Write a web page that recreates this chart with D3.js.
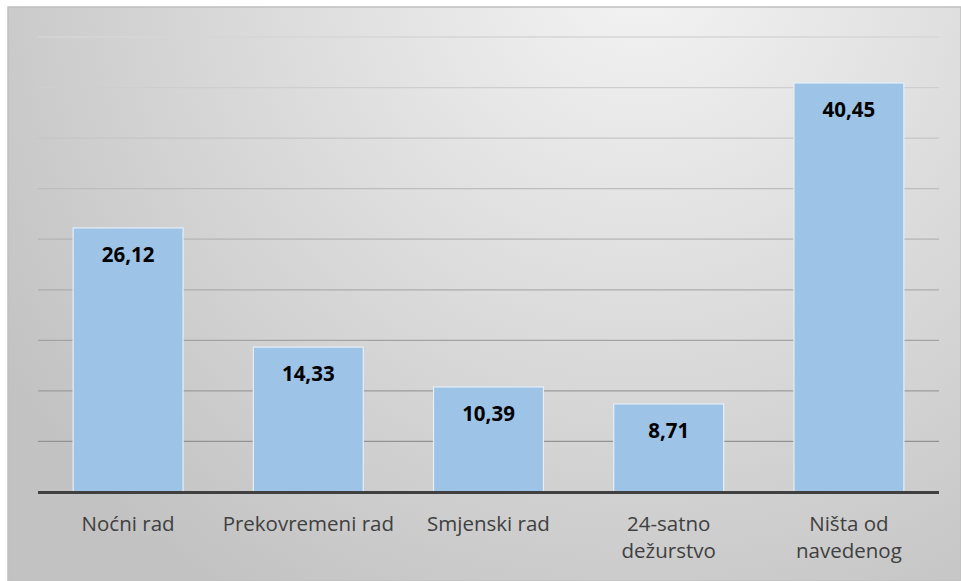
<!DOCTYPE html>
<html>
  <head>
    <meta charset='utf-8' />
    <title>Bar chart</title>
    <style>
      body { margin: 0; background: white; }
      svg { display: block; }
      .value { font-family: "Open Sans", sans-serif; font-weight: bold; font-size: 20.5px; fill: #000; }
      .cat { font-family: "Open Sans", sans-serif; font-size: 20.5px; fill: #404040; }
    </style>
  </head>
<body>
  <svg id="chart" width="961" height="581"></svg>
  <script src="https://d3js.org/d3.v7.min.js"></script>
  <script>
    const categories = ["Noćni rad", "Prekovremeni rad", "Smjenski rad", "24-satno\ndežurstvo", "Ništa od\nnavedenog"];
    const values = [26.12, 14.33, 10.39, 8.71, 40.45];
    const gridTicks = [5, 10, 15, 20, 25, 30, 35, 40, 45];

    const svgWidth = 961, svgHeight = 581;
    const plotLeft = 38, plotRight = 939, plotTop = 37, plotBottom = 492;

    const svg = d3.select("#chart");
    const defs = svg.append("defs");

    // background gradient
    const bg = defs.append("radialGradient")
      .attr("id", "bg")
      .attr("gradientUnits", "userSpaceOnUse")
      .attr("cx", 640).attr("cy", -40).attr("r", 760);
    bg.append("stop").attr("offset", "0%").attr("stop-color", "#f4f4f4");
    bg.append("stop").attr("offset", "100%").attr("stop-color", "#c2c2c2");

    svg.append("rect")
      .attr("x", 8).attr("y", 7)
      .attr("width", svgWidth - 8).attr("height", svgHeight - 7)
      .attr("fill", "url(#bg)")
      .attr("stroke", "#c0c0c0")
      .attr("stroke-width", 1.5);

    const x = d3.scaleBand()
      .domain(categories)
      .range([plotLeft, plotRight])
      .paddingInner(0.39)
      .paddingOuter(0.195);

    const y = d3.scaleLinear()
      .domain([0, 45])
      .range([plotBottom, plotTop]);

    const gridColor = d3.scaleLinear()
      .domain([45, 0])
      .range(["#d6d6d6", "#8a8a8a"]);

    // gridlines
    svg.append("g")
      .selectAll("line")
      .data(gridTicks)
      .join("line")
      .attr("x1", plotLeft).attr("x2", plotRight)
      .attr("y1", d => y(d)).attr("y2", d => y(d))
      .attr("stroke", d => gridColor(d))
      .attr("stroke-width", 1.3);

    // bars
    svg.append("g")
      .selectAll("rect")
      .data(values)
      .join("rect")
      .attr("x", (d, i) => x(categories[i]))
      .attr("y", d => y(d))
      .attr("width", x.bandwidth())
      .attr("height", d => plotBottom - y(d))
      .attr("fill", "#9dc3e6")
      .attr("stroke", "#e6eef8")
      .attr("stroke-width", 1.2);

    // value labels
    svg.append("g")
      .selectAll("text")
      .data(values)
      .join("text")
      .attr("class", "value")
      .attr("x", (d, i) => x(categories[i]) + x.bandwidth() / 2)
      .attr("y", d => y(d) + 34)
      .attr("text-anchor", "middle")
      .text(d => d.toFixed(2).replace(".", ","));

    // baseline axis
    svg.append("line")
      .attr("x1", plotLeft).attr("x2", plotRight)
      .attr("y1", plotBottom + 0.5).attr("y2", plotBottom + 0.5)
      .attr("stroke", "#404040")
      .attr("stroke-width", 3);

    // category labels
    const cat = svg.append("g")
      .selectAll("text")
      .data(categories)
      .join("text")
      .attr("class", "cat")
      .attr("text-anchor", "middle")
      .attr("x", d => x(d) + x.bandwidth() / 2)
      .attr("y", 531);
    cat.each(function(d) {
      const lines = d.split("\n");
      d3.select(this).selectAll("tspan")
        .data(lines)
        .join("tspan")
        .attr("x", x(d) + x.bandwidth() / 2)
        .attr("dy", (l, i) => i === 0 ? 0 : 27)
        .text(l => l);
    });
  </script>
</body>
</html>
